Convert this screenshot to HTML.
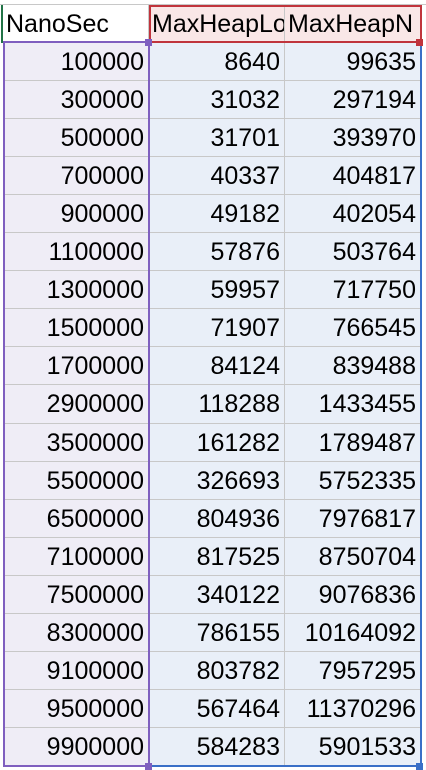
<!DOCTYPE html>
<html><head><meta charset="utf-8"><style>
body{margin:0;width:426px;height:770px;overflow:hidden;background:#fff;font-family:"Liberation Sans",sans-serif;}
.c{position:absolute;box-sizing:border-box;font-size:25px;line-height:38px;white-space:nowrap;overflow:hidden;color:#000;border-right:1px solid #c8c8c8;border-bottom:1px solid #c8c8c8;}
.r{text-align:right;padding-right:4px;}
</style></head><body>
<div id="sheet"></div>
<script>
const nano=[100000,300000,500000,700000,900000,1100000,1300000,1500000,1700000,2900000,3500000,5500000,6500000,7100000,7500000,8300000,9100000,9500000,9900000];
const maxLo=[8640,31032,31701,40337,49182,57876,59957,71907,84124,118288,161282,326693,804936,817525,340122,786155,803782,567464,584283];
const maxN=[99635,297194,393970,404817,402054,503764,717750,766545,839488,1433455,1789487,5752335,7976817,8750704,9076836,10164092,7957295,11370296,5901533];
const sheet=document.getElementById('sheet');
const cols=[[3,146],[149,136],[285,136]];
const top0=4,hh=38,rh=38.05;
function cell(x,y,w,h,txt,bg,cls){
  const d=document.createElement('div');
  d.className='c '+cls;
  d.style.cssText=`left:${x}px;top:${y}px;width:${w}px;height:${h}px;background:${bg}`;
  d.textContent=txt;
  sheet.appendChild(d);return d;
}
const g=document.createElement('div');g.style.cssText='position:absolute;left:0;top:0;width:426px;height:4px;border-bottom:1px solid #c8c8c8';


sheet.appendChild(g);
const heads=['NanoSec','MaxHeapLo','MaxHeapN'];
const hbg=['#ffffff','#f9e7e7','#f9e7e7'];
heads.forEach((h,i)=>{
  const d=cell(cols[i][0],top0+1,cols[i][1],hh,h,hbg[i],'');
  d.style.paddingLeft='3px';
  
  
});
const data=[nano,maxLo,maxN];
const bgs=['#efedf6','#e9eff8','#e9eff8'];
for(let r=0;r<nano.length;r++){
  for(let i=0;i<3;i++){
    const y=Math.round(top0+1+hh+r*rh);
    const y2=Math.round(top0+1+hh+(r+1)*rh);
    const d=cell(cols[i][0],y,cols[i][1],y2-y,String(data[i][r]),bgs[i],'r');
    
    
  }
}
function box(css,name){const d=document.createElement('div');d.style.cssText='position:absolute;box-sizing:border-box;'+css;


sheet.appendChild(d);}
box('left:3px;top:41px;width:147px;height:726px;border:2px solid #7f5fbf;','purple-range');
box('left:149px;top:5px;width:273px;height:38px;border:2px solid #c0343c;','red-range');
box('left:149px;top:42px;width:273px;height:725px;border:2px solid #3a6fc7;border-left:none;border-top:none;','blue-range');
box('left:1px;top:5px;width:2px;height:38px;background:#217346;','green-marker');
box('left:145px;top:39px;width:7px;height:7px;background:#7f5fbf;','purple-handle');
box('left:145px;top:763px;width:7px;height:7px;background:#7f5fbf;','purple-handle-bottom');
box('left:416px;top:39px;width:7px;height:7px;background:#c0343c;','red-handle');
box('left:416px;top:763px;width:7px;height:7px;background:#3a6fc7;','blue-handle');
</script>
</body></html>
